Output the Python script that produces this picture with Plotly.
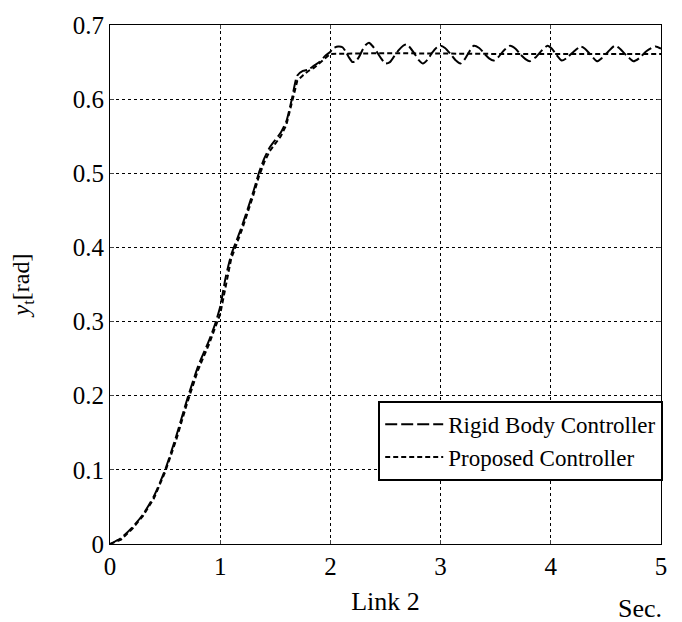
import plotly.graph_objects as go

# Rigid Body Controller (long dashes)
t_rigid = [0, 0.1, 0.2, 0.3, 0.4, 0.5, 0.6, 0.7, 0.8, 0.9, 0.95, 1.0, 1.05, 1.1, 1.15, 1.2,
           1.3, 1.35, 1.4, 1.45, 1.5, 1.55, 1.6, 1.65, 1.7, 1.75, 1.8, 1.85, 1.9, 1.95,
           2.0, 2.03, 2.07, 2.11, 2.14, 2.17, 2.2, 2.23, 2.26, 2.29, 2.32, 2.35, 2.38, 2.42,
           2.46, 2.5, 2.54, 2.58, 2.62, 2.66, 2.69, 2.72, 2.76, 2.8, 2.84, 2.88, 2.92, 2.96,
           3.0, 3.04, 3.09, 3.14, 3.18, 3.22, 3.26, 3.3, 3.35, 3.4, 3.44, 3.48, 3.52, 3.57,
           3.63, 3.68, 3.72, 3.77, 3.81, 3.86, 3.92, 3.97, 4.01, 4.05, 4.1, 4.14, 4.2, 4.27,
           4.31, 4.36, 4.42, 4.46, 4.52, 4.58, 4.62, 4.68, 4.75, 4.8, 4.87, 4.95, 5.0]
y_rigid = [0, 0.008, 0.022, 0.04, 0.065, 0.1, 0.145, 0.195, 0.24, 0.275, 0.295, 0.32, 0.36, 0.39, 0.41, 0.43,
           0.475, 0.5, 0.52, 0.535, 0.545, 0.555, 0.57, 0.6, 0.632, 0.638, 0.64, 0.645, 0.65, 0.658,
           0.664, 0.669, 0.671, 0.670, 0.664, 0.656, 0.650, 0.651, 0.657, 0.666, 0.673, 0.676, 0.672, 0.664,
           0.655, 0.648, 0.650, 0.658, 0.666, 0.672, 0.674, 0.670, 0.662, 0.653, 0.648, 0.653, 0.662, 0.669,
           0.672, 0.669, 0.661, 0.652, 0.648, 0.654, 0.664, 0.672, 0.669, 0.661, 0.655, 0.652, 0.656, 0.665,
           0.672, 0.668, 0.661, 0.654, 0.651, 0.656, 0.666, 0.672, 0.668, 0.660, 0.652, 0.655, 0.663, 0.671,
           0.668, 0.660, 0.651, 0.655, 0.664, 0.672, 0.669, 0.660, 0.651, 0.655, 0.665, 0.671, 0.668]

# Proposed Controller (short dashes)
t_prop = [0, 0.1, 0.2, 0.3, 0.4, 0.5, 0.6, 0.7, 0.8, 0.9, 1.0, 1.05, 1.1, 1.15, 1.2, 1.3, 1.35,
          1.4, 1.45, 1.5, 1.55, 1.6, 1.65, 1.7, 1.75, 1.8, 1.85, 1.9, 1.95, 2.0, 2.5, 3.0, 3.5,
          4.0, 4.5, 5.0]
y_prop = [0, 0.006, 0.02, 0.038, 0.062, 0.097, 0.14, 0.19, 0.235, 0.27, 0.31, 0.35, 0.385, 0.405,
          0.425, 0.47, 0.495, 0.515, 0.53, 0.54, 0.55, 0.565, 0.595, 0.625, 0.632, 0.638, 0.642,
          0.648, 0.655, 0.661, 0.662, 0.661, 0.661, 0.661, 0.661, 0.661]

x_ticks = [0, 1, 2, 3, 4, 5]
y_ticks = [0, 0.1, 0.2, 0.3, 0.4, 0.5, 0.6, 0.7]
y_ticktext = ["0", "0.1", "0.2", "0.3", "0.4", "0.5", "0.6", "0.7"]

FONT = "'Liberation Serif', 'Times New Roman', Times, 'DejaVu Serif', serif"

fig = go.Figure()
fig.add_trace(go.Scatter(x=t_rigid, y=y_rigid, mode="lines", name="Rigid Body Controller",
                         line=dict(color="black", width=2, dash="12px,4px", shape="spline", smoothing=0.6)))
fig.add_trace(go.Scatter(x=t_prop, y=y_prop, mode="lines", name="Proposed Controller",
                         line=dict(color="black", width=2, dash="5px,3px")))

fig.update_layout(
    width=682, height=622,
    margin=dict(l=110, r=21, t=16, b=76),
    paper_bgcolor="white", plot_bgcolor="white",
    font=dict(family=FONT, size=24, color="black"),
    showlegend=True,
    legend=dict(x=1.004, xanchor="right", y=0.276, yanchor="top",
                bordercolor="black", borderwidth=2, bgcolor="white",
                font=dict(family=FONT, size=23), tracegroupgap=0,
                itemwidth=58, entrywidth=260, entrywidthmode="pixels"),
    xaxis=dict(range=[0, 5], tickvals=x_ticks, ticks="inside", ticklen=4,
               showgrid=True, gridcolor="black", gridwidth=1, griddash="dot",
               showline=True, linecolor="black", linewidth=1, mirror="ticks",
               zeroline=False, tickfont=dict(family=FONT, size=25),
               title=dict(text="Link 2", font=dict(family=FONT, size=26), standoff=12)),
    yaxis=dict(range=[0, 0.7], tickvals=y_ticks, ticktext=y_ticktext, ticks="inside", ticklen=4,
               showgrid=True, gridcolor="black", gridwidth=1, griddash="dot",
               showline=True, linecolor="black", linewidth=1, mirror="ticks",
               zeroline=False, tickfont=dict(family=FONT, size=25),
               title=dict(text="<i>y</i><sub>t</sub>[rad]", font=dict(family=FONT, size=24), standoff=36)),
)

fig.add_annotation(text="Sec.", x=1.005, y=-0.092, xref="paper", yref="paper",
                   xanchor="right", yanchor="top", showarrow=False,
                   font=dict(family=FONT, size=26, color="black"))

fig.write_html("out.html")
